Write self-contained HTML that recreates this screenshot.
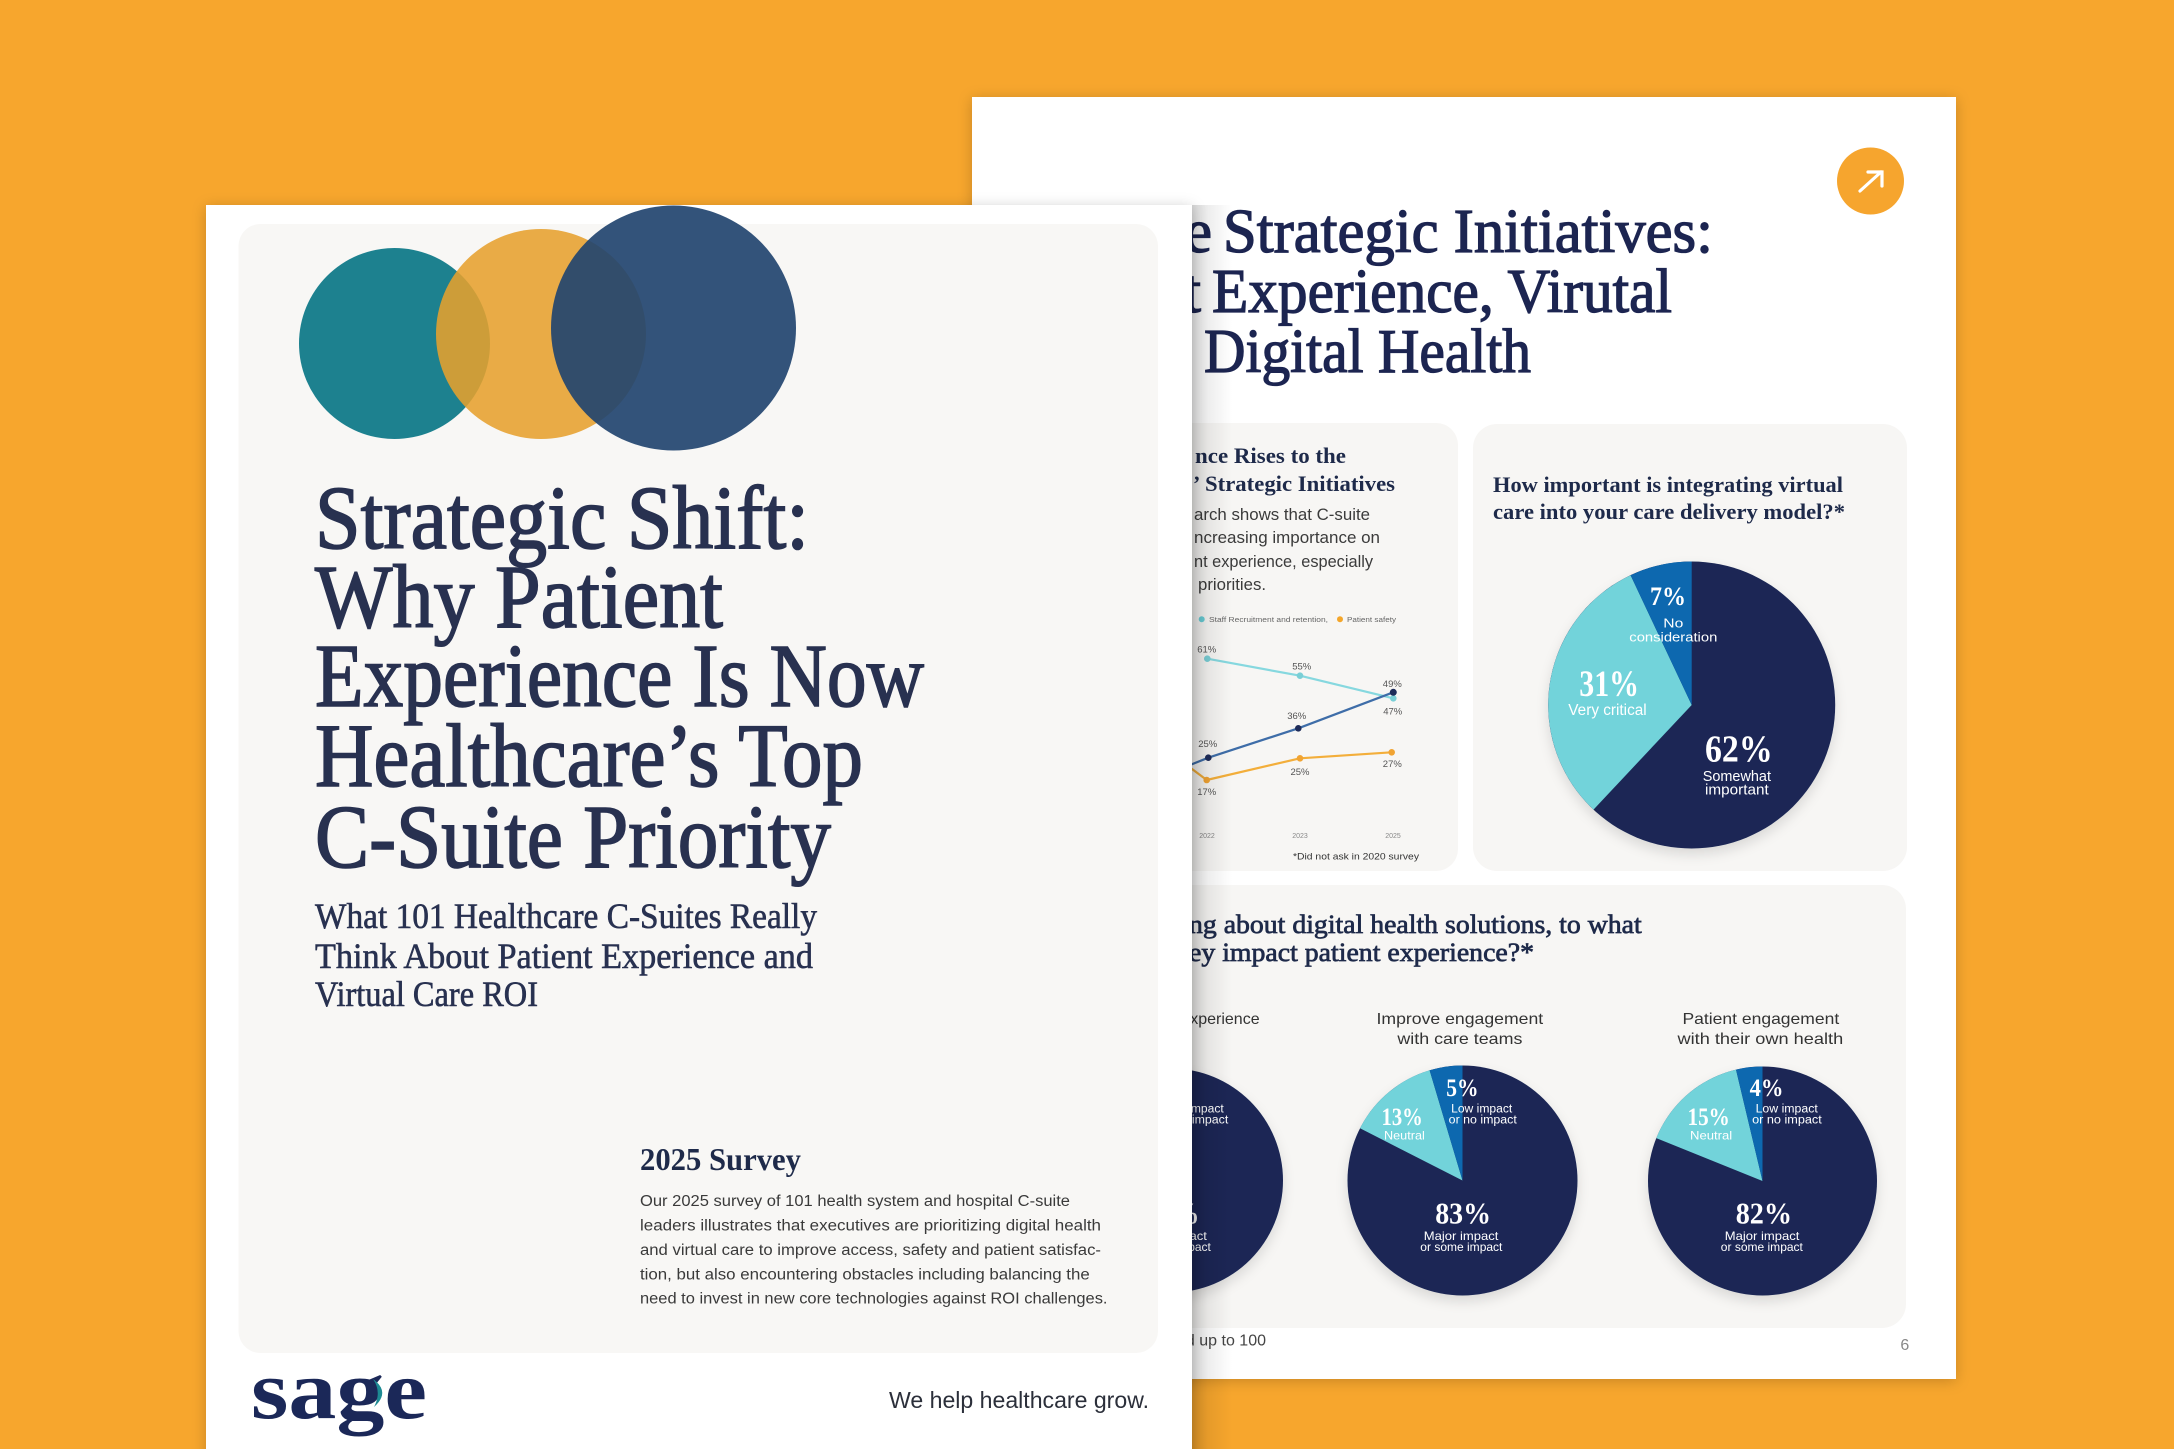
<!DOCTYPE html>
<html>
<head>
<meta charset="utf-8">
<style>
html,body{margin:0;padding:0;width:2174px;height:1449px;overflow:hidden;background:#F7A62D;}
svg{display:block;}
.sf{font-family:"Liberation Serif",serif;}
.ss{font-family:"Liberation Sans",sans-serif;}
</style>
</head>
<body>
<svg width="2174" height="1449" viewBox="0 0 2174 1449" xmlns="http://www.w3.org/2000/svg">
<defs>
  <filter id="ps" x="-10%" y="-10%" width="120%" height="120%">
    <feDropShadow dx="0" dy="2" stdDeviation="7" flood-color="#000" flood-opacity="0.2"/>
  </filter>
  <filter id="pieS" x="-20%" y="-20%" width="140%" height="150%">
    <feDropShadow dx="0" dy="6" stdDeviation="6" flood-color="#000" flood-opacity="0.12"/>
  </filter>
  <linearGradient id="sh" x1="0" x2="1" y1="0" y2="0">
    <stop offset="0" stop-color="#000" stop-opacity="0.17"/>
    <stop offset="0.4" stop-color="#000" stop-opacity="0.07"/>
    <stop offset="1" stop-color="#000" stop-opacity="0"/>
  </linearGradient>
</defs>

<!-- background -->
<rect x="0" y="0" width="2174" height="1449" fill="#F7A62D"/>

<!-- ================= RIGHT PAGE ================= -->
<rect x="972" y="97" width="984" height="1282" fill="#FFFFFF" filter="url(#ps)"/>

<!-- orange button -->
<circle cx="1870.5" cy="181" r="33.5" fill="#F6A52E"/>
<g stroke="#FFFFFF" stroke-width="3.2" stroke-linecap="round" fill="none">
  <line x1="1860" y1="191" x2="1881" y2="172"/>
  <polyline points="1868,172 1882,172 1882,186"/>
</g>

<!-- right title -->
<g class="sf" font-size="62" fill="#1C2551" stroke="#1C2551" stroke-width="1.3">
  <text x="1212" y="252" text-anchor="end">C-Suite</text>
  <text x="1223" y="252" textLength="490" lengthAdjust="spacingAndGlyphs">Strategic Initiatives:</text>
  <text x="1201" y="312" text-anchor="end">Patient</text>
  <text x="1212" y="312" textLength="460" lengthAdjust="spacingAndGlyphs">Experience, Virutal</text>
  <text x="1190" y="372" text-anchor="end">Care and</text>
  <text x="1204" y="372" textLength="327" lengthAdjust="spacingAndGlyphs">Digital Health</text>
</g>

<!-- Card A (line chart) -->
<rect x="1140" y="423" width="318" height="448" rx="22" fill="#F7F6F4"/>
<g class="sf" font-size="22" font-weight="bold" fill="#1E2A4A">
  <text x="1195" y="463" textLength="151" lengthAdjust="spacingAndGlyphs">nce Rises to the</text>
  <text x="1193" y="491">’</text>
  <text x="1205" y="491" textLength="190" lengthAdjust="spacingAndGlyphs">Strategic Initiatives</text>
</g>
<g class="ss" font-size="16.5" fill="#3B3B3B">
  <text x="1194" y="520" textLength="176" lengthAdjust="spacingAndGlyphs">arch shows that C-suite</text>
  <text x="1194" y="543" textLength="186" lengthAdjust="spacingAndGlyphs">ncreasing importance on</text>
  <text x="1194" y="567" textLength="179" lengthAdjust="spacingAndGlyphs">nt experience, especially</text>
  <text x="1198" y="590" textLength="68" lengthAdjust="spacingAndGlyphs">priorities.</text>
</g>
<!-- legend -->
<circle cx="1201.7" cy="619.3" r="3" fill="#6ACFD8"/>
<text class="ss" x="1209" y="621.8" font-size="7" fill="#666" textLength="119" lengthAdjust="spacingAndGlyphs">Staff Recruitment and retention,</text>
<circle cx="1340" cy="619.3" r="3" fill="#F4A62A"/>
<text class="ss" x="1347" y="621.8" font-size="7" fill="#666" textLength="49" lengthAdjust="spacingAndGlyphs">Patient safety</text>
<!-- lines -->
<g fill="none" stroke-width="2.2" stroke-linejoin="round">
  <polyline points="1207.3,658.7 1300,675.7 1393.3,698.3" stroke="#86D8DF"/>
  <polyline points="1150,781 1208.3,757.7 1298.3,728.3 1393.3,692.3" stroke="#3E6DA8"/>
  <polyline points="1160,745 1206.7,780 1300,758.3 1391.7,752.3" stroke="#F3AE3A"/>
</g>
<g fill="#7ACFD6">
  <circle cx="1207.3" cy="658.7" r="3.3"/><circle cx="1300" cy="675.7" r="3.3"/><circle cx="1393.3" cy="698.3" r="3.3"/>
</g>
<g fill="#F1A433">
  <circle cx="1206.7" cy="780" r="3.3"/><circle cx="1300" cy="758.3" r="3.3"/><circle cx="1391.7" cy="752.3" r="3.3"/>
</g>
<g fill="#1E2C5A">
  <circle cx="1208.3" cy="757.7" r="3.3"/><circle cx="1298.3" cy="728.3" r="3.3"/><circle cx="1393.3" cy="692.3" r="3.5"/>
</g>
<g class="ss" font-size="9.5" fill="#555" text-anchor="middle">
  <text x="1206.7" y="652.5">61%</text>
  <text x="1301.7" y="669.5">55%</text>
  <text x="1392.3" y="687">49%</text>
  <text x="1392.7" y="714.5">47%</text>
  <text x="1296.7" y="719">36%</text>
  <text x="1207.7" y="747">25%</text>
  <text x="1206.7" y="795">17%</text>
  <text x="1300" y="775">25%</text>
  <text x="1392.3" y="767">27%</text>
</g>
<g class="ss" font-size="7" fill="#888" text-anchor="middle">
  <text x="1207" y="838">2022</text>
  <text x="1300" y="838">2023</text>
  <text x="1393" y="838">2025</text>
</g>
<text class="ss" x="1293" y="859.3" font-size="9.5" fill="#333" textLength="126" lengthAdjust="spacingAndGlyphs">*Did not ask in 2020 survey</text>

<!-- Card B (pie) -->
<rect x="1473" y="424" width="434" height="447" rx="24" fill="#F7F6F4"/>
<g class="sf" font-size="22" font-weight="bold" fill="#1E2A4A">
  <text x="1493" y="492" textLength="350" lengthAdjust="spacingAndGlyphs">How important is integrating virtual</text>
  <text x="1493" y="519" textLength="352" lengthAdjust="spacingAndGlyphs">care into your care delivery model?*</text>
</g>
<g filter="url(#pieS)">
  <circle cx="1691.7" cy="705" r="143.5" fill="#1A2855"/>
  <path d="M1691.7 705 L1593.5 809.6 A143.5 143.5 0 0 1 1630.6 575.2 Z" fill="#72D3DA"/>
  <path d="M1691.7 705 L1630.6 575.2 A143.5 143.5 0 0 1 1691.7 561.5 Z" fill="#0B67AF"/>
</g>
<g fill="#FFFFFF">
  <text class="sf" font-weight="bold" x="1650" y="605" font-size="26" textLength="36" lengthAdjust="spacingAndGlyphs">7%</text>
  <text class="ss" x="1663.3" y="627.3" font-size="13" textLength="20" lengthAdjust="spacingAndGlyphs">No</text>
  <text class="ss" x="1629.3" y="641.7" font-size="13" textLength="88" lengthAdjust="spacingAndGlyphs">consideration</text>
  <text class="sf" font-weight="bold" x="1579.3" y="696" font-size="37" textLength="59.7" lengthAdjust="spacingAndGlyphs">31%</text>
  <text class="ss" x="1568.3" y="715" font-size="15.5" textLength="78.4" lengthAdjust="spacingAndGlyphs">Very critical</text>
  <text class="sf" font-weight="bold" x="1705" y="761.7" font-size="38" textLength="67.7" lengthAdjust="spacingAndGlyphs">62%</text>
  <text class="ss" x="1702.7" y="781" font-size="14.5" textLength="68.3" lengthAdjust="spacingAndGlyphs">Somewhat</text>
  <text class="ss" x="1705" y="794.3" font-size="14.5" textLength="63.7" lengthAdjust="spacingAndGlyphs">important</text>
</g>

<!-- Card C (three pies) -->
<rect x="1140" y="885" width="766" height="443" rx="24" fill="#F7F6F4"/>
<g class="sf" font-size="26" fill="#1E2A4A" stroke="#1E2A4A" stroke-width="0.7">
  <text x="1189" y="933" textLength="452.7" lengthAdjust="spacingAndGlyphs">ng about digital health solutions, to what</text>
  <text x="1189" y="961" textLength="345" lengthAdjust="spacingAndGlyphs">ey impact patient experience?*</text>
</g>
<g class="ss" font-size="16" fill="#333">
  <text x="1259.6" y="1024" text-anchor="end">Improve patient experience</text>
  <text x="1376.5" y="1024" textLength="166.7" lengthAdjust="spacingAndGlyphs">Improve engagement</text>
  <text x="1397.4" y="1044" textLength="125" lengthAdjust="spacingAndGlyphs">with care teams</text>
  <text x="1682.5" y="1024" textLength="156.7" lengthAdjust="spacingAndGlyphs">Patient engagement</text>
  <text x="1677.5" y="1044" textLength="165.7" lengthAdjust="spacingAndGlyphs">with their own health</text>
</g>
<!-- pie 1 (mostly hidden) -->
<g filter="url(#pieS)">
  <circle cx="1171" cy="1180.5" r="112" fill="#1A2855"/>
</g>
<!-- pie 2 -->
<g filter="url(#pieS)">
  <circle cx="1462.5" cy="1180.5" r="115" fill="#1A2855"/>
  <path d="M1462.5 1180.5 L1360 1128.3 A115 115 0 0 1 1429.6 1070.3 Z" fill="#72D3DA"/>
  <path d="M1462.5 1180.5 L1429.6 1070.3 A115 115 0 0 1 1462.5 1065.5 Z" fill="#0B67AF"/>
</g>
<!-- pie 3 -->
<g filter="url(#pieS)">
  <circle cx="1762.5" cy="1181" r="114.5" fill="#1A2855"/>
  <path d="M1762.5 1181 L1656.3 1138.1 A114.5 114.5 0 0 1 1736 1069.6 Z" fill="#72D3DA"/>
  <path d="M1762.5 1181 L1736 1069.6 A114.5 114.5 0 0 1 1762.5 1066.5 Z" fill="#0B67AF"/>
</g>
<g fill="#FFFFFF">
  <!-- pie 1 labels -->
  <text class="ss" x="1162.6" y="1112.3" font-size="11.5" textLength="61.2" lengthAdjust="spacingAndGlyphs">Low impact</text>
  <text class="ss" x="1160.2" y="1123.3" font-size="11.5" textLength="68.1" lengthAdjust="spacingAndGlyphs">or no impact</text>
  <text class="sf" font-weight="bold" x="1143.7" y="1223.3" font-size="31" textLength="55.8" lengthAdjust="spacingAndGlyphs">81%</text>
  <text class="ss" x="1132.3" y="1240" font-size="12" textLength="74.6" lengthAdjust="spacingAndGlyphs">Major impact</text>
  <text class="ss" x="1128.8" y="1251" font-size="12" textLength="82.1" lengthAdjust="spacingAndGlyphs">or some impact</text>
  <!-- pie 2 labels -->
  <text class="sf" font-weight="bold" x="1446.2" y="1096" font-size="25" textLength="32.3" lengthAdjust="spacingAndGlyphs">5%</text>
  <text class="ss" x="1451.1" y="1112.3" font-size="11.5" textLength="61.2" lengthAdjust="spacingAndGlyphs">Low impact</text>
  <text class="ss" x="1448.7" y="1123.3" font-size="11.5" textLength="68.1" lengthAdjust="spacingAndGlyphs">or no impact</text>
  <text class="sf" font-weight="bold" x="1381.5" y="1125" font-size="25" textLength="41.3" lengthAdjust="spacingAndGlyphs">13%</text>
  <text class="ss" x="1384" y="1139.3" font-size="12" textLength="40.8" lengthAdjust="spacingAndGlyphs">Neutral</text>
  <text class="sf" font-weight="bold" x="1435.2" y="1223.3" font-size="31" textLength="55.8" lengthAdjust="spacingAndGlyphs">83%</text>
  <text class="ss" x="1423.8" y="1240" font-size="12" textLength="74.6" lengthAdjust="spacingAndGlyphs">Major impact</text>
  <text class="ss" x="1420.3" y="1251" font-size="12" textLength="82.1" lengthAdjust="spacingAndGlyphs">or some impact</text>
  <!-- pie 3 labels -->
  <text class="sf" font-weight="bold" x="1749.6" y="1096" font-size="25" textLength="33.9" lengthAdjust="spacingAndGlyphs">4%</text>
  <text class="ss" x="1755.6" y="1112.3" font-size="11.5" textLength="62.2" lengthAdjust="spacingAndGlyphs">Low impact</text>
  <text class="ss" x="1752.1" y="1123.3" font-size="11.5" textLength="69.7" lengthAdjust="spacingAndGlyphs">or no impact</text>
  <text class="sf" font-weight="bold" x="1687.5" y="1125" font-size="25" textLength="42.3" lengthAdjust="spacingAndGlyphs">15%</text>
  <text class="ss" x="1690" y="1139.3" font-size="12" textLength="42.2" lengthAdjust="spacingAndGlyphs">Neutral</text>
  <text class="sf" font-weight="bold" x="1735.7" y="1223.3" font-size="31" textLength="56.3" lengthAdjust="spacingAndGlyphs">82%</text>
  <text class="ss" x="1724.8" y="1240" font-size="12" textLength="74.6" lengthAdjust="spacingAndGlyphs">Major impact</text>
  <text class="ss" x="1720.8" y="1251" font-size="12" textLength="82.1" lengthAdjust="spacingAndGlyphs">or some impact</text>
</g>

<text class="ss" x="1266" y="1345.7" font-size="16" fill="#444" text-anchor="end">*Percentages may not add up to 100</text>
<text class="ss" x="1900.4" y="1350" font-size="16" fill="#888">6</text>

<!-- shadow cast by left page -->
<rect x="1192" y="205" width="40" height="1244" fill="url(#sh)"/>

<!-- ================= LEFT PAGE ================= -->
<rect x="206" y="205" width="986" height="1300" fill="#FFFFFF" filter="url(#ps)"/>
<rect x="238.5" y="224" width="919.5" height="1129" rx="22" fill="#F8F7F5"/>

<!-- circles -->
<circle cx="394.5" cy="343.5" r="95.5" fill="#1D818F"/>
<circle cx="541" cy="334" r="105" fill="#E6A02E" fill-opacity="0.88"/>
<circle cx="673.5" cy="328" r="122.5" fill="#22446F" fill-opacity="0.92"/>

<!-- main title -->
<g class="sf" font-size="90" fill="#283150" stroke="#283150" stroke-width="1.6">
  <text x="315" y="548" textLength="494" lengthAdjust="spacingAndGlyphs">Strategic Shift:</text>
  <text x="315" y="627" textLength="408" lengthAdjust="spacingAndGlyphs">Why Patient</text>
  <text x="315" y="706" textLength="609" lengthAdjust="spacingAndGlyphs">Experience Is Now</text>
  <text x="315" y="786" textLength="548" lengthAdjust="spacingAndGlyphs">Healthcare’s Top</text>
  <text x="315" y="867" textLength="516" lengthAdjust="spacingAndGlyphs">C-Suite Priority</text>
</g>
<g class="sf" font-size="36" fill="#283150" stroke="#283150" stroke-width="0.6">
  <text x="315" y="928" textLength="502" lengthAdjust="spacingAndGlyphs">What 101 Healthcare C-Suites Really</text>
  <text x="315" y="968" textLength="498" lengthAdjust="spacingAndGlyphs">Think About Patient Experience and</text>
  <text x="315" y="1006" textLength="223" lengthAdjust="spacingAndGlyphs">Virtual Care ROI</text>
</g>

<!-- 2025 survey -->
<text class="sf" x="640" y="1170" font-size="32" font-weight="bold" fill="#1E2A4A" textLength="161" lengthAdjust="spacingAndGlyphs">2025 Survey</text>
<g class="ss" font-size="15.5" fill="#3A3A3A">
  <text x="640" y="1206" textLength="430" lengthAdjust="spacingAndGlyphs">Our 2025 survey of 101 health system and hospital C-suite</text>
  <text x="640" y="1230.7" textLength="461" lengthAdjust="spacingAndGlyphs">leaders illustrates that executives are prioritizing digital health</text>
  <text x="640" y="1255" textLength="461" lengthAdjust="spacingAndGlyphs">and virtual care to improve access, safety and patient satisfac-</text>
  <text x="640" y="1279.3" textLength="449.7" lengthAdjust="spacingAndGlyphs">tion, but also encountering obstacles including balancing the</text>
  <text x="640" y="1303.7" textLength="467.5" lengthAdjust="spacingAndGlyphs">need to invest in new core technologies against ROI challenges.</text>
</g>

<!-- logo -->
<text class="sf" x="251" y="1418" font-size="84" font-weight="bold" fill="#1B2858" textLength="176" lengthAdjust="spacingAndGlyphs">sage</text>
<path d="M373 1379 Q391 1392 374 1407 Q382 1392 373 1379 Z" fill="#1D8A93"/>

<text class="ss" x="889" y="1408" font-size="23" fill="#2B2F3A" textLength="260" lengthAdjust="spacingAndGlyphs">We help healthcare grow.</text>
</svg>
</body>
</html>
